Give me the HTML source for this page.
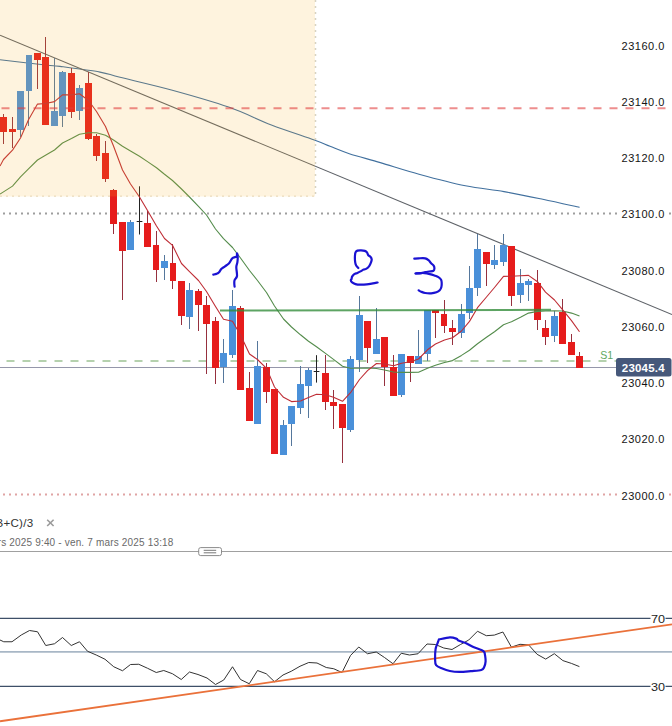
<!DOCTYPE html>
<html><head><meta charset="utf-8"><title>chart</title>
<style>
html,body{margin:0;padding:0;background:#fff;width:672px;height:726px;overflow:hidden;}
svg{display:block;}
</style></head><body>
<svg width="672" height="726" viewBox="0 0 672 726">
<style>
text { font-family: "Liberation Sans", sans-serif; }
.pl { font-size: 11px; fill: #141414; letter-spacing: 0.5px; }
</style>
<rect x="0" y="0" width="672" height="726" fill="#fff"/>
<!-- gray dotted 23100 -->
<line x1="0" y1="213.4" x2="672" y2="213.4" stroke="#9e9e9e" stroke-width="2" stroke-dasharray="2,4" stroke-dashoffset="-3"/>
<!-- red dotted 23000 -->
<line x1="0" y1="494.4" x2="672" y2="494.4" stroke="#e0a4a4" stroke-width="2" stroke-dasharray="2,4" stroke-dashoffset="-3"/>
<!-- green dashed S1 -->
<line x1="0" y1="361" x2="616" y2="361" stroke="#b5d1ae" stroke-width="2" stroke-dasharray="8,8" stroke-dashoffset="-6.5"/>
<!-- current price line -->
<line x1="0" y1="367.5" x2="616" y2="367.5" stroke="#9597aa" stroke-width="1"/>
<!-- blue MA -->
<path d="M0.00,59.70 C8.33,60.67 40.00,64.38 50.00,65.50 C60.00,66.62 51.67,65.30 60.00,66.40 C68.33,67.50 90.00,70.28 100.00,72.10 C110.00,73.92 108.10,74.32 120.00,77.30 C131.90,80.28 153.30,85.03 171.40,90.00 C189.50,94.97 211.93,101.27 228.60,107.10 C245.27,112.93 257.12,119.52 271.40,125.00 C285.68,130.48 304.53,136.45 314.30,140.00 C324.07,143.55 324.17,144.02 330.00,146.30 C335.83,148.58 340.92,150.98 349.30,153.70 C357.68,156.42 368.68,159.18 380.30,162.60 C391.92,166.02 404.82,170.33 419.00,174.20 C433.18,178.07 451.23,182.90 465.40,185.80 C479.57,188.70 491.10,189.35 504.00,191.60 C516.90,193.85 530.22,196.67 542.80,199.30 C555.38,201.93 573.38,206.05 579.50,207.40" fill="none" stroke="#41709e" stroke-width="1.1"/>
<!-- gray trend line -->
<line x1="0" y1="35.2" x2="672" y2="314.5" stroke="#5e6268" stroke-width="1.1"/>
<line x1="315.5" y1="0" x2="315.5" y2="196.5" stroke="#d6d3c4" stroke-width="1.5" stroke-dasharray="2,4"/>
<line x1="0" y1="196.2" x2="316" y2="196.2" stroke="#eee6d6" stroke-width="1.5" stroke-dasharray="2,4"/>
<!-- candles -->
<line x1="3.50" y1="114" x2="3.50" y2="144" stroke="#96303e" stroke-width="1"/>
<rect x="0" y="117" width="7" height="15" fill="#e61c1c"/>
<line x1="12.50" y1="117" x2="12.50" y2="148" stroke="#96303e" stroke-width="1"/>
<rect x="9" y="129" width="7" height="3" fill="#e61c1c"/>
<line x1="20.50" y1="91" x2="20.50" y2="137" stroke="#55779c" stroke-width="1"/>
<rect x="17" y="91" width="7" height="39" fill="#4a90d9"/>
<line x1="28.50" y1="55" x2="28.50" y2="126" stroke="#55779c" stroke-width="1"/>
<rect x="26" y="55" width="6" height="36" fill="#4a90d9"/>
<line x1="37.50" y1="53" x2="37.50" y2="89" stroke="#96303e" stroke-width="1"/>
<rect x="34" y="53" width="7" height="7" fill="#e61c1c"/>
<line x1="45.50" y1="37" x2="45.50" y2="125" stroke="#96303e" stroke-width="1"/>
<rect x="42" y="57" width="7" height="68" fill="#e61c1c"/>
<line x1="54.50" y1="58" x2="54.50" y2="126" stroke="#55779c" stroke-width="1"/>
<rect x="51" y="111" width="7" height="15" fill="#4a90d9"/>
<line x1="62.50" y1="71" x2="62.50" y2="127" stroke="#55779c" stroke-width="1"/>
<rect x="59" y="72" width="7" height="44" fill="#4a90d9"/>
<line x1="71.50" y1="68" x2="71.50" y2="118" stroke="#96303e" stroke-width="1"/>
<rect x="68" y="73" width="7" height="39" fill="#e61c1c"/>
<line x1="79.50" y1="85" x2="79.50" y2="120" stroke="#55779c" stroke-width="1"/>
<rect x="76" y="88" width="7" height="23" fill="#4a90d9"/>
<line x1="88.50" y1="72" x2="88.50" y2="140" stroke="#96303e" stroke-width="1"/>
<rect x="85" y="83" width="7" height="56" fill="#e61c1c"/>
<line x1="96.50" y1="134" x2="96.50" y2="161" stroke="#96303e" stroke-width="1"/>
<rect x="93" y="136" width="7" height="20" fill="#e61c1c"/>
<line x1="105.50" y1="141" x2="105.50" y2="182" stroke="#96303e" stroke-width="1"/>
<rect x="102" y="153" width="7" height="26" fill="#e61c1c"/>
<line x1="113.50" y1="189" x2="113.50" y2="234" stroke="#96303e" stroke-width="1"/>
<rect x="110" y="190" width="7" height="34" fill="#e61c1c"/>
<line x1="122.50" y1="222" x2="122.50" y2="300" stroke="#96303e" stroke-width="1"/>
<rect x="119" y="222" width="7" height="29" fill="#e61c1c"/>
<line x1="130.50" y1="220" x2="130.50" y2="250" stroke="#55779c" stroke-width="1"/>
<rect x="127" y="222" width="7" height="28" fill="#4a90d9"/>
<line x1="139.50" y1="186.3" x2="139.50" y2="234.5" stroke="#222" stroke-width="1"/>
<line x1="136.70" y1="221.5" x2="142.40" y2="221.5" stroke="#222" stroke-width="1"/>
<line x1="147.50" y1="211" x2="147.50" y2="247" stroke="#96303e" stroke-width="1"/>
<rect x="144" y="223" width="7" height="24" fill="#e61c1c"/>
<line x1="156.50" y1="231" x2="156.50" y2="282" stroke="#96303e" stroke-width="1"/>
<rect x="153" y="245" width="6" height="25" fill="#e61c1c"/>
<line x1="164.50" y1="255" x2="164.50" y2="280" stroke="#55779c" stroke-width="1"/>
<rect x="161" y="261" width="7" height="7" fill="#4a90d9"/>
<line x1="172.50" y1="244" x2="172.50" y2="289" stroke="#96303e" stroke-width="1"/>
<rect x="170" y="263" width="6" height="18" fill="#e61c1c"/>
<line x1="181.50" y1="281" x2="181.50" y2="325" stroke="#96303e" stroke-width="1"/>
<rect x="178" y="281" width="7" height="35" fill="#e61c1c"/>
<line x1="189.50" y1="283" x2="189.50" y2="329" stroke="#55779c" stroke-width="1"/>
<rect x="186" y="290" width="7" height="27" fill="#4a90d9"/>
<line x1="198.50" y1="289" x2="198.50" y2="331" stroke="#96303e" stroke-width="1"/>
<rect x="195" y="291" width="7" height="14" fill="#e61c1c"/>
<line x1="206.50" y1="296" x2="206.50" y2="374" stroke="#96303e" stroke-width="1"/>
<rect x="203" y="305" width="7" height="19" fill="#e61c1c"/>
<line x1="215.50" y1="317" x2="215.50" y2="384" stroke="#96303e" stroke-width="1"/>
<rect x="212" y="321" width="7" height="47" fill="#e61c1c"/>
<line x1="223.50" y1="339" x2="223.50" y2="383" stroke="#55779c" stroke-width="1"/>
<rect x="220" y="353" width="7" height="14" fill="#4a90d9"/>
<line x1="232.50" y1="290" x2="232.50" y2="358" stroke="#55779c" stroke-width="1"/>
<rect x="229" y="306" width="7" height="49" fill="#4a90d9"/>
<line x1="240.50" y1="306" x2="240.50" y2="390" stroke="#96303e" stroke-width="1"/>
<rect x="237" y="308" width="7" height="82" fill="#e61c1c"/>
<line x1="249.50" y1="372" x2="249.50" y2="421" stroke="#96303e" stroke-width="1"/>
<rect x="246" y="388" width="7" height="33" fill="#e61c1c"/>
<line x1="257.50" y1="341" x2="257.50" y2="424" stroke="#55779c" stroke-width="1"/>
<rect x="254" y="366" width="7" height="58" fill="#4a90d9"/>
<line x1="266.50" y1="363" x2="266.50" y2="403" stroke="#96303e" stroke-width="1"/>
<rect x="263" y="367" width="7" height="25" fill="#e61c1c"/>
<rect x="271" y="389" width="7" height="65" fill="#e61c1c"/>
<line x1="283.50" y1="420" x2="283.50" y2="455" stroke="#55779c" stroke-width="1"/>
<rect x="280" y="425" width="7" height="30" fill="#4a90d9"/>
<line x1="291.50" y1="406" x2="291.50" y2="446" stroke="#55779c" stroke-width="1"/>
<rect x="288" y="406" width="7" height="18" fill="#4a90d9"/>
<line x1="300.50" y1="366" x2="300.50" y2="414" stroke="#55779c" stroke-width="1"/>
<rect x="297" y="384" width="7" height="24" fill="#4a90d9"/>
<line x1="308.50" y1="368" x2="308.50" y2="418" stroke="#55779c" stroke-width="1"/>
<rect x="305" y="370" width="7" height="16" fill="#4a90d9"/>
<line x1="316.50" y1="355.2" x2="316.50" y2="382.6" stroke="#222" stroke-width="1"/>
<line x1="313.70" y1="371.5" x2="319.40" y2="371.5" stroke="#222" stroke-width="1"/>
<line x1="325.50" y1="355" x2="325.50" y2="410" stroke="#96303e" stroke-width="1"/>
<rect x="322" y="373" width="7" height="29" fill="#e61c1c"/>
<line x1="333.50" y1="390" x2="333.50" y2="429" stroke="#96303e" stroke-width="1"/>
<rect x="330" y="402" width="7" height="4" fill="#e61c1c"/>
<line x1="342.50" y1="404" x2="342.50" y2="463" stroke="#96303e" stroke-width="1"/>
<rect x="339" y="404" width="7" height="24" fill="#e61c1c"/>
<line x1="350.50" y1="356" x2="350.50" y2="432" stroke="#55779c" stroke-width="1"/>
<rect x="347" y="359" width="7" height="71" fill="#4a90d9"/>
<line x1="359.50" y1="296" x2="359.50" y2="372" stroke="#55779c" stroke-width="1"/>
<rect x="356" y="315" width="7" height="45" fill="#4a90d9"/>
<line x1="367.50" y1="321" x2="367.50" y2="363" stroke="#96303e" stroke-width="1"/>
<rect x="364" y="321" width="7" height="27" fill="#e61c1c"/>
<line x1="376.50" y1="308" x2="376.50" y2="354" stroke="#55779c" stroke-width="1"/>
<rect x="373" y="339" width="7" height="15" fill="#4a90d9"/>
<line x1="384.50" y1="337" x2="384.50" y2="386" stroke="#96303e" stroke-width="1"/>
<rect x="381" y="337" width="7" height="30" fill="#e61c1c"/>
<line x1="393.50" y1="355" x2="393.50" y2="396" stroke="#96303e" stroke-width="1"/>
<rect x="390" y="367" width="7" height="29" fill="#e61c1c"/>
<line x1="401.50" y1="354" x2="401.50" y2="397" stroke="#55779c" stroke-width="1"/>
<rect x="398" y="354" width="7" height="41" fill="#4a90d9"/>
<line x1="410.50" y1="356" x2="410.50" y2="382" stroke="#96303e" stroke-width="1"/>
<rect x="407" y="356" width="7" height="7" fill="#e61c1c"/>
<line x1="418.50" y1="330" x2="418.50" y2="364" stroke="#55779c" stroke-width="1"/>
<rect x="415" y="356" width="7" height="8" fill="#4a90d9"/>
<line x1="427.50" y1="310" x2="427.50" y2="361" stroke="#55779c" stroke-width="1"/>
<rect x="424" y="310" width="7" height="44" fill="#4a90d9"/>
<line x1="435.50" y1="310" x2="435.50" y2="338" stroke="#96303e" stroke-width="1"/>
<rect x="432" y="310" width="7" height="3" fill="#e61c1c"/>
<line x1="444.50" y1="300" x2="444.50" y2="333" stroke="#96303e" stroke-width="1"/>
<rect x="441" y="314" width="6" height="12" fill="#e61c1c"/>
<line x1="452.50" y1="320" x2="452.50" y2="345" stroke="#96303e" stroke-width="1"/>
<rect x="449" y="328" width="7" height="4" fill="#e61c1c"/>
<line x1="461.50" y1="304" x2="461.50" y2="338" stroke="#55779c" stroke-width="1"/>
<rect x="458" y="314" width="7" height="19" fill="#4a90d9"/>
<line x1="469.50" y1="266" x2="469.50" y2="319" stroke="#55779c" stroke-width="1"/>
<rect x="466" y="288" width="7" height="25" fill="#4a90d9"/>
<line x1="477.50" y1="234" x2="477.50" y2="296" stroke="#55779c" stroke-width="1"/>
<rect x="474" y="249" width="7" height="39" fill="#4a90d9"/>
<line x1="486.50" y1="252" x2="486.50" y2="286" stroke="#96303e" stroke-width="1"/>
<rect x="483" y="252" width="7" height="12" fill="#e61c1c"/>
<line x1="494.50" y1="245" x2="494.50" y2="269" stroke="#55779c" stroke-width="1"/>
<rect x="491" y="260" width="7" height="5" fill="#4a90d9"/>
<line x1="503.50" y1="234" x2="503.50" y2="266" stroke="#55779c" stroke-width="1"/>
<rect x="500" y="245" width="7" height="17" fill="#4a90d9"/>
<line x1="511.50" y1="246" x2="511.50" y2="306" stroke="#96303e" stroke-width="1"/>
<rect x="508" y="246" width="7" height="50" fill="#e61c1c"/>
<line x1="520.50" y1="269" x2="520.50" y2="303" stroke="#55779c" stroke-width="1"/>
<rect x="517" y="283" width="7" height="12" fill="#4a90d9"/>
<line x1="528.50" y1="279" x2="528.50" y2="301" stroke="#55779c" stroke-width="1"/>
<rect x="525" y="281" width="7" height="4" fill="#4a90d9"/>
<line x1="537.50" y1="270" x2="537.50" y2="330" stroke="#96303e" stroke-width="1"/>
<rect x="534" y="283" width="7" height="37" fill="#e61c1c"/>
<line x1="545.50" y1="320" x2="545.50" y2="345" stroke="#96303e" stroke-width="1"/>
<rect x="542" y="328" width="7" height="9" fill="#e61c1c"/>
<line x1="554.50" y1="311" x2="554.50" y2="342" stroke="#55779c" stroke-width="1"/>
<rect x="551" y="316" width="7" height="20" fill="#4a90d9"/>
<line x1="562.50" y1="299" x2="562.50" y2="344" stroke="#96303e" stroke-width="1"/>
<rect x="559" y="312" width="7" height="32" fill="#e61c1c"/>
<line x1="571.50" y1="334" x2="571.50" y2="355" stroke="#96303e" stroke-width="1"/>
<rect x="568" y="342" width="7" height="13" fill="#e61c1c"/>
<line x1="579.50" y1="352" x2="579.50" y2="368" stroke="#96303e" stroke-width="1"/>
<rect x="576" y="356" width="7" height="12" fill="#e61c1c"/>
<!-- green MA -->
<polyline points="0.00,194.10 3.50,191.90 12.50,186.10 20.50,176.80 28.50,168.80 37.50,160.00 45.50,155.30 54.50,150.00 62.50,143.00 71.50,138.50 79.50,134.20 88.50,132.70 96.50,132.70 105.50,135.20 113.50,140.00 122.50,146.30 130.50,151.00 139.50,156.20 147.50,161.60 156.50,167.80 164.50,174.30 172.50,180.50 181.50,189.00 189.50,197.00 198.50,206.40 206.50,215.00 215.50,229.00 223.50,238.70 232.50,247.50 240.50,258.00 249.50,270.50 257.50,280.50 266.50,292.50 274.50,306.00 283.50,319.00 291.50,327.00 300.50,334.80 308.50,341.30 316.50,346.70 325.50,353.40 333.50,359.40 342.50,366.20 350.50,368.20 359.50,368.20 367.50,368.00 376.50,368.50 384.50,370.00 393.50,372.00 401.50,372.40 410.50,372.40 418.50,372.30 427.50,368.20 435.50,365.20 444.50,362.50 452.50,360.60 461.50,355.40 469.50,350.30 477.50,343.80 486.50,337.30 494.50,331.70 503.50,324.70 511.50,321.70 520.50,317.30 528.50,313.10 537.50,311.40 545.50,311.00 554.50,310.80 562.50,311.00 571.50,313.10 579.50,316.00" fill="none" stroke="#548c4c" stroke-width="1.1" stroke-linejoin="round"/>
<!-- red MA -->
<polyline points="0.00,166.10 3.50,159.50 12.50,150.10 20.50,138.00 28.50,119.80 37.50,104.10 45.50,103.50 54.50,101.60 62.50,94.90 71.50,94.90 79.50,93.80 88.50,100.50 96.50,111.50 105.50,126.50 113.50,146.00 122.50,170.00 130.50,184.00 139.50,197.00 147.50,210.50 156.50,226.00 164.50,238.50 172.50,245.30 181.50,263.50 189.50,271.60 198.50,280.50 206.50,291.50 215.50,306.50 223.50,319.20 232.50,321.30 240.50,335.00 249.50,354.00 257.50,359.50 266.50,368.30 274.50,387.00 283.50,397.30 291.50,401.60 300.50,401.00 308.50,397.50 316.50,394.30 325.50,394.80 333.50,397.20 342.50,401.30 350.50,392.70 359.50,379.50 367.50,370.60 376.50,363.50 384.50,364.00 393.50,365.80 401.50,363.30 410.50,361.80 418.50,359.00 427.50,349.80 435.50,344.00 444.50,340.00 452.50,337.80 461.50,331.00 469.50,321.40 477.50,307.70 486.50,297.00 494.50,287.50 503.50,276.40 511.50,276.20 520.50,275.80 528.50,275.40 537.50,281.70 545.50,292.20 554.50,300.00 562.50,309.70 571.50,320.60 579.50,331.80" fill="none" stroke="#bf2e36" stroke-width="1.1" stroke-linejoin="round"/>
<!-- green horizontal -->
<line x1="220" y1="310.6" x2="551" y2="309.8" stroke="#2f8a37" stroke-opacity="0.78" stroke-width="2"/>
<!-- beige overlay -->
<rect x="0" y="0" width="315" height="196.5" fill="#f8af23" fill-opacity="0.15"/>
<!-- price labels -->
<rect x="617.5" y="39.0" width="51" height="14" fill="#fff"/><text x="621.6" y="50" class="pl">23160.0</text><rect x="617.5" y="95.2" width="51" height="14" fill="#fff"/><text x="621.6" y="106" class="pl">23140.0</text><rect x="617.5" y="151.5" width="51" height="14" fill="#fff"/><text x="621.6" y="162" class="pl">23120.0</text><rect x="617.5" y="207.8" width="51" height="14" fill="#fff"/><text x="621.6" y="218" class="pl">23100.0</text><rect x="617.5" y="264.0" width="51" height="14" fill="#fff"/><text x="621.6" y="275" class="pl">23080.0</text><rect x="617.5" y="320.2" width="51" height="14" fill="#fff"/><text x="621.6" y="331" class="pl">23060.0</text><rect x="617.5" y="376.5" width="51" height="14" fill="#fff"/><text x="621.6" y="387" class="pl">23040.0</text><rect x="617.5" y="432.8" width="51" height="14" fill="#fff"/><text x="621.6" y="443" class="pl">23020.0</text><rect x="617.5" y="489.0" width="51" height="14" fill="#fff"/><text x="621.6" y="500" class="pl">23000.0</text>
<!-- red dashed (on top) -->
<line x1="0" y1="108.3" x2="672" y2="108.3" stroke="#e03c3c" stroke-opacity="0.58" stroke-width="2" stroke-dasharray="8,8" stroke-dashoffset="-1.5"/>
<!-- handwriting -->
<path d="M213.30,274.60 C213.82,274.48 215.48,274.25 216.40,273.90 C217.32,273.55 217.95,273.35 218.80,272.50 C219.65,271.65 220.47,269.83 221.50,268.80 C222.53,267.77 223.73,267.23 225.00,266.30 C226.27,265.37 227.95,264.45 229.10,263.20 C230.25,261.95 231.10,259.77 231.90,258.80 C232.70,257.83 233.10,257.80 233.90,257.40 C234.70,257.00 236.18,257.08 236.70,256.40 C237.22,255.72 236.83,253.25 237.00,253.30 C237.17,253.35 237.63,255.22 237.70,256.70 C237.77,258.18 237.63,260.48 237.40,262.20 C237.17,263.92 236.37,264.70 236.30,267.00 C236.23,269.30 237.28,273.82 237.00,276.00 C236.72,278.18 235.05,278.83 234.60,280.10 C234.15,281.37 234.30,282.50 234.30,283.60 C234.30,284.70 234.55,286.18 234.60,286.70" fill="none" stroke="#1a12d2" stroke-width="2.2" stroke-linecap="round" stroke-linejoin="round"/>
<path d="M358.30,268.00 C357.95,267.58 356.72,266.43 356.20,265.50 C355.68,264.57 355.42,263.75 355.20,262.40 C354.98,261.05 354.85,259.07 354.90,257.40 C354.95,255.73 355.08,253.53 355.50,252.40 C355.92,251.27 356.47,250.95 357.40,250.60 C358.33,250.25 359.87,250.25 361.10,250.30 C362.33,250.35 363.82,250.55 364.80,250.90 C365.78,251.25 366.42,251.68 367.00,252.40 C367.58,253.12 367.73,254.47 368.30,255.20 C368.87,255.93 369.83,256.12 370.40,256.80 C370.97,257.48 371.60,258.37 371.70,259.30 C371.80,260.23 371.42,261.27 371.00,262.40 C370.58,263.53 370.02,265.02 369.20,266.10 C368.38,267.18 367.03,268.32 366.10,268.90 C365.17,269.48 364.53,269.18 363.60,269.60 C362.67,270.02 361.53,270.85 360.50,271.40 C359.47,271.95 358.43,272.45 357.40,272.90 C356.37,273.35 355.18,273.48 354.30,274.10 C353.42,274.72 352.55,275.82 352.10,276.60 C351.65,277.38 351.82,278.18 351.60,278.80 C351.38,279.42 350.77,279.73 350.80,280.30 C350.83,280.87 351.02,281.57 351.80,282.20 C352.58,282.83 354.05,283.68 355.50,284.10 C356.95,284.52 358.63,284.65 360.50,284.70 C362.37,284.75 364.63,284.62 366.70,284.40 C368.77,284.18 371.08,283.72 372.90,283.40 C374.72,283.08 376.82,282.65 377.60,282.50" fill="none" stroke="#1a12d2" stroke-width="2.2" stroke-linecap="round" stroke-linejoin="round"/>
<path d="M414.30,258.60 C415.02,258.55 416.78,258.35 418.60,258.30 C420.42,258.25 423.55,257.98 425.20,258.30 C426.85,258.62 427.52,259.38 428.50,260.20 C429.48,261.02 430.22,262.25 431.10,263.20 C431.98,264.15 433.25,265.02 433.80,265.90 C434.35,266.78 434.45,267.68 434.40,268.50 C434.35,269.32 434.37,270.30 433.50,270.80 C432.63,271.30 430.58,271.28 429.20,271.50 C427.82,271.72 426.53,271.83 425.20,272.10 C423.87,272.37 422.80,272.87 421.20,273.10 C419.60,273.33 416.53,273.43 415.60,273.50" fill="none" stroke="#1a12d2" stroke-width="2.2" stroke-linecap="round" stroke-linejoin="round"/>
<path d="M415.60,273.50 C416.33,273.43 418.52,273.17 420.00,273.10 C421.48,273.03 422.87,272.93 424.50,273.10 C426.13,273.27 428.15,273.70 429.80,274.10 C431.45,274.50 432.97,275.00 434.40,275.50 C435.83,276.00 437.28,276.38 438.40,277.10 C439.52,277.82 440.55,278.80 441.10,279.80 C441.65,280.80 441.65,281.90 441.70,283.10 C441.75,284.30 441.73,285.80 441.40,287.00 C441.07,288.20 440.53,289.42 439.70,290.30 C438.87,291.18 437.83,291.80 436.40,292.30 C434.97,292.80 432.97,293.18 431.10,293.30 C429.23,293.42 426.85,293.27 425.20,293.00 C423.55,292.73 422.30,292.15 421.20,291.70 C420.10,291.25 419.03,290.53 418.60,290.30" fill="none" stroke="#1a12d2" stroke-width="2.2" stroke-linecap="round" stroke-linejoin="round"/>
<text x="600.2" y="358.8" style="font-size:10.6px; fill:#5fa862;">S1</text>
<rect x="616" y="358" width="55.5" height="18.6" rx="2.5" fill="#46587a"/>
<text x="621.8" y="372" style="font-size:11.5px; fill:#fff; font-weight:bold; letter-spacing:0.2px;">23045.4</text>
<!-- bottom area -->
<text x="-4.6" y="526.7" style="font-size:11.6px; fill:#333; letter-spacing:0.26px;">B+C)/3</text>
<line x1="47.2" y1="519.7" x2="53.6" y2="526" stroke="#9a9a9a" stroke-width="1.6"/>
<line x1="53.6" y1="519.7" x2="47.2" y2="526" stroke="#9a9a9a" stroke-width="1.6"/>
<text x="-2.3" y="545.9" style="font-size:10px; fill:#6a6a6a; letter-spacing:0.17px;">rs 2025 9:40 - ven. 7 mars 2025 13:18</text>
<line x1="0" y1="551.5" x2="672" y2="551.5" stroke="#a0a0a0" stroke-width="1"/>
<rect x="198.7" y="547.6" width="22.8" height="8" rx="2" fill="#fff" stroke="#8a8a8a" stroke-width="1"/>
<line x1="203.7" y1="550.3" x2="216.2" y2="550.3" stroke="#777" stroke-width="1"/>
<line x1="203.7" y1="552.8" x2="216.2" y2="552.8" stroke="#777" stroke-width="1"/>
<!-- RSI -->
<line x1="0" y1="618.3" x2="672" y2="618.3" stroke="#3e4f68" stroke-width="1.2"/>
<line x1="0" y1="651.9" x2="672" y2="651.9" stroke="#a8b7c6" stroke-width="1.6"/>
<line x1="0" y1="686.4" x2="672" y2="686.4" stroke="#3e4f68" stroke-width="1.2"/>
<rect x="650.5" y="612" width="15" height="12" fill="#fff"/>
<rect x="650.5" y="680" width="15" height="12" fill="#fff"/>
<text x="650.9" y="622.7" textLength="14.1" lengthAdjust="spacingAndGlyphs" style="font-size:10.5px; fill:#1e1e1e;">70</text>
<text x="650.9" y="690.8" textLength="14.1" lengthAdjust="spacingAndGlyphs" style="font-size:10.5px; fill:#1e1e1e;">30</text>
<polyline points="0.00,640.00 3.75,641.75 12.00,641.75 21.25,635.00 29.50,630.50 37.50,631.75 45.75,645.50 54.50,643.75 62.50,637.50 71.25,645.50 79.50,641.75 87.50,651.25 96.25,655.00 105.00,659.25 113.75,666.75 122.50,670.75 130.50,664.50 138.75,664.25 147.50,668.25 156.25,672.50 163.75,670.50 172.50,673.75 181.25,679.50 189.50,672.00 198.00,674.50 207.00,678.00 215.50,684.50 223.75,680.00 232.50,666.75 240.50,679.50 249.25,683.75 257.50,670.50 266.25,673.75 274.50,681.75 283.00,675.00 291.25,671.25 300.00,666.25 308.75,662.50 317.00,663.00 326.25,667.50 333.75,668.75 342.00,672.50 350.50,655.50 358.75,647.00 367.50,653.75 376.25,652.00 384.50,657.50 393.00,663.75 401.25,653.25 409.50,655.00 418.00,653.75 427.00,644.00 435.50,644.50 443.75,648.00 452.00,649.50 460.50,644.50 468.75,640.00 477.50,631.25 486.30,635.70 494.30,635.10 502.90,632.00 511.40,647.10 520.00,644.30 528.60,644.90 537.10,654.30 545.70,659.10 554.30,653.70 562.90,660.60 571.40,663.40 579.40,666.60" fill="none" stroke="#333" stroke-width="1"/>
<line x1="0" y1="721.25" x2="672" y2="624.3" stroke="#ea713a" stroke-width="1.8"/>
<path d="M438.95,639.50 C440.77,639.15 446.96,637.52 449.90,637.40 C452.84,637.28 455.17,638.28 456.60,638.80 C458.03,639.32 456.92,639.75 458.50,640.50 C460.08,641.25 463.72,642.27 466.10,643.30 C468.48,644.33 470.27,645.58 472.80,646.70 C475.33,647.82 479.40,649.13 481.30,650.00 C483.20,650.87 483.57,650.95 484.20,651.90 C484.83,652.85 484.87,654.12 485.10,655.70 C485.33,657.28 485.75,659.50 485.60,661.40 C485.45,663.30 484.92,665.67 484.20,667.10 C483.48,668.53 483.52,669.33 481.30,670.00 C479.08,670.67 474.55,670.78 470.90,671.10 C467.25,671.42 462.90,671.92 459.40,671.90 C455.90,671.88 452.75,671.55 449.90,671.00 C447.05,670.45 444.60,669.57 442.30,668.60 C440.00,667.63 437.30,666.87 436.10,665.20 C434.90,663.53 435.18,661.30 435.10,658.60 C435.02,655.90 435.20,651.55 435.60,649.00 C436.00,646.45 436.94,644.88 437.50,643.30 C438.06,641.72 438.71,640.13 438.95,639.50" fill="none" stroke="#1a12d2" stroke-width="2.2" stroke-linecap="round" stroke-linejoin="round"/>
</svg>
</body></html>
